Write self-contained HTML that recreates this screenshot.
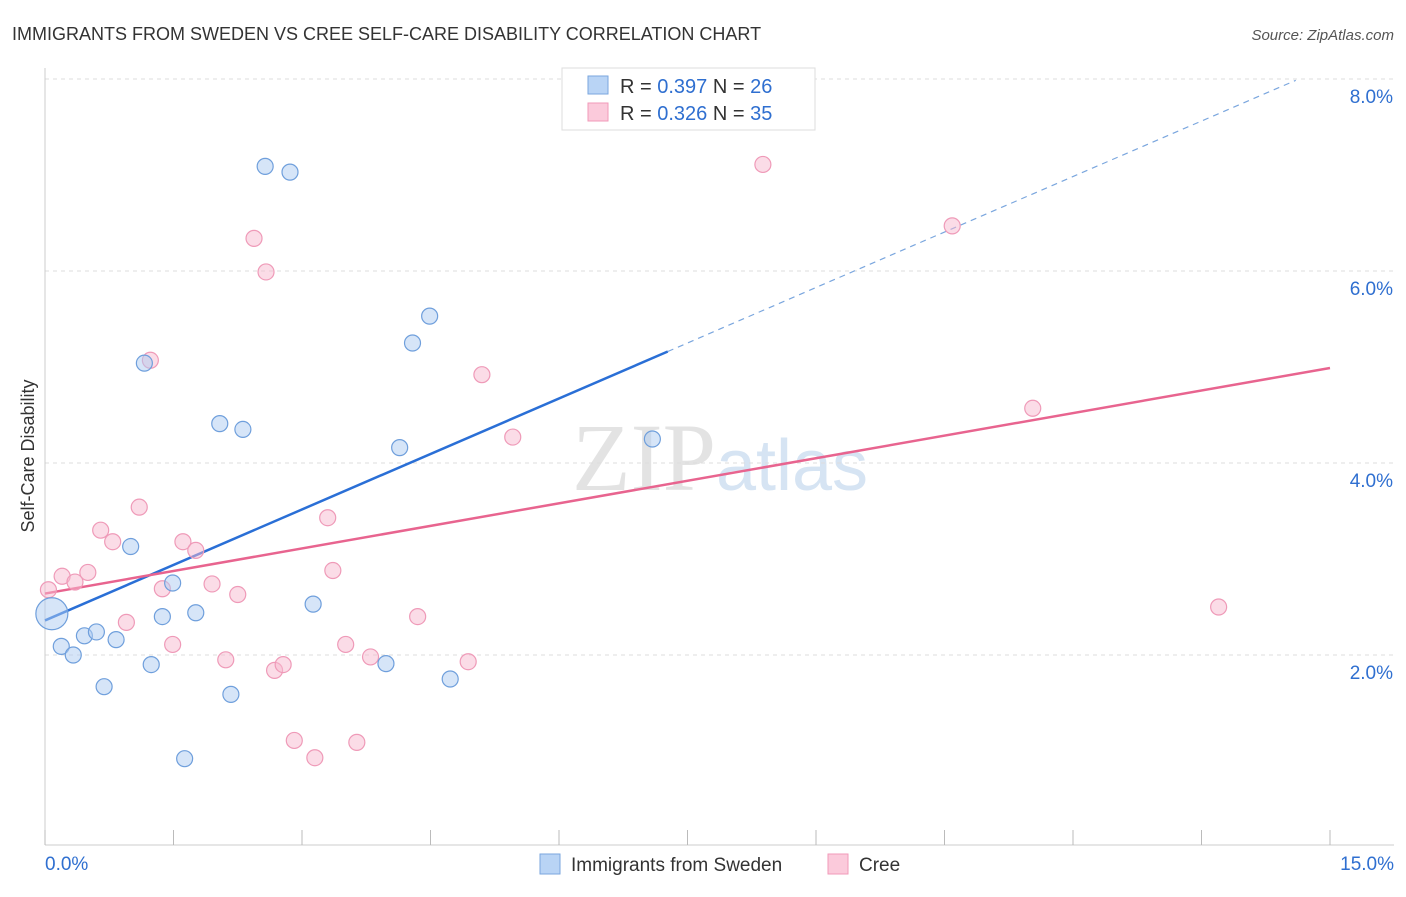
<!DOCTYPE html>
<html><head><meta charset="utf-8"><style>
body{margin:0;background:#fff;font-family:"Liberation Sans",sans-serif;}
</style></head><body>
<svg width="1406" height="892" xmlns="http://www.w3.org/2000/svg" id="svg" font-family="Liberation Sans, sans-serif">
<text x="12" y="40" font-size="18" fill="#333">IMMIGRANTS FROM SWEDEN VS CREE SELF-CARE DISABILITY CORRELATION CHART</text>
<text x="1394" y="40" font-size="15" fill="#555" font-style="italic" text-anchor="end">Source: ZipAtlas.com</text>
<text x="720" y="490" font-size="96" fill="#e3e3e3" text-anchor="middle" font-family="Liberation Serif, serif">ZIP<tspan fill="#d6e4f3" font-family="Liberation Sans, sans-serif" font-size="72">atlas</tspan></text>
<text x="34" y="456" font-size="18" fill="#333" text-anchor="middle" transform="rotate(-90 34 456)">Self-Care Disability</text>
<g id="grid"></g><g id="axes"></g><g id="lines"></g><g id="pts"></g>
<g>
<rect x="562" y="68" width="253" height="62" fill="#fff" stroke="#ddd"/>
<rect x="588" y="76" width="20" height="18" fill="#b9d4f5" stroke="#7aa6de"/>
<text x="620" y="93" font-size="20" fill="#333">R = <tspan fill="#2f6fd0">0.397</tspan>   N = <tspan fill="#2f6fd0">26</tspan></text>
<rect x="588" y="103" width="20" height="18" fill="#fbcadb" stroke="#f19ab8"/>
<text x="620" y="120" font-size="20" fill="#333">R = <tspan fill="#2f6fd0">0.326</tspan>   N = <tspan fill="#2f6fd0">35</tspan></text>
</g>
<g>
<rect x="540" y="854" width="20" height="20" fill="#b9d4f5" stroke="#7aa6de"/>
<text x="571" y="871" font-size="19" fill="#333">Immigrants from Sweden</text>
<rect x="828" y="854" width="20" height="20" fill="#fbcadb" stroke="#f19ab8"/>
<text x="859" y="871" font-size="19" fill="#333">Cree</text>
</g>
</svg>
<script>
const blueX=[0.08,0.19,0.33,0.46,0.60,0.69,0.83,1.00,1.16,1.24,1.37,1.49,1.63,1.76,2.04,2.17,2.31,2.57,2.86,3.13,3.98,4.14,4.29,4.49,4.73,7.09];
const blueY=[2.43,2.09,2.00,2.20,2.24,1.67,2.16,3.13,5.04,1.90,2.40,2.75,0.92,2.44,4.41,1.59,4.35,7.09,7.03,2.53,1.91,4.16,5.25,5.53,1.75,4.25];
const pinkX=[0.04,0.20,0.35,0.50,0.65,0.79,0.95,1.10,1.23,1.37,1.49,1.61,1.76,1.95,2.11,2.25,2.44,2.58,2.68,2.78,2.91,3.15,3.30,3.36,3.51,3.64,3.80,4.35,4.94,5.10,5.46,8.38,10.59,11.53,13.70];
const pinkY=[2.68,2.82,2.76,2.86,3.30,3.18,2.34,3.54,5.07,2.69,2.11,3.18,3.09,2.74,1.95,2.63,6.34,5.99,1.84,1.90,1.11,0.93,3.43,2.88,2.11,1.09,1.98,2.40,1.93,4.92,4.27,7.11,6.47,4.57,2.50];
const blueLine=[2.36,8.14]; const pinkLine=[2.64,4.99];
const yTicks=[2,4,6,8];
const xTickLabels=["0.0%","15.0%"];
const NS="http://www.w3.org/2000/svg";
const sx=v=>45+v/15*1285, sy=v=>847-v*96;
function mk(t,a,p){const e=document.createElementNS(NS,t);for(const k in a)e.setAttribute(k,a[k]);document.getElementById(p).appendChild(e);return e;}
yTicks.forEach(t=>{
 const l=mk('line',{x1:45,x2:1394,y1:sy(t),y2:sy(t),stroke:'#ddd','stroke-dasharray':'4,4'},'grid');
 
 
 const tx=mk('text',{x:1393,y:sy(t)+24,'font-size':19,fill:'#2f6fd0','text-anchor':'end'},'grid');
 tx.textContent=t.toFixed(1)+'%';
 
 
});
mk('line',{x1:45,x2:45,y1:68,y2:845,stroke:'#ccc'},'axes');
mk('line',{x1:45,x2:1394,y1:845,y2:845,stroke:'#ccc'},'axes');
for(let i=0;i<=10;i++){const x=sx(i*1.5);const t=mk('line',{x1:x,x2:x,y1:830,y2:845,stroke:'#bbb'},'axes');
 
 }
const xl0=mk('text',{x:45,y:870,'font-size':19,fill:'#2f6fd0'},'axes');xl0.textContent=xTickLabels[0];


const xl1=mk('text',{x:1394,y:870,'font-size':19,fill:'#2f6fd0','text-anchor':'end'},'axes');xl1.textContent=xTickLabels[1];


// trend lines
const bEndX=7.27; const bAt=x=>blueLine[0]+(blueLine[1]-blueLine[0])*x/15;
const bl=mk('line',{x1:sx(0),y1:sy(blueLine[0]),x2:sx(bEndX),y2:sy(bAt(bEndX)),stroke:'#2a6fd6','stroke-width':2.5},'lines');


const bd=mk('line',{x1:sx(bEndX),y1:sy(bAt(bEndX)),x2:sx(14.6),y2:sy(bAt(14.6)),stroke:'#7aa6de','stroke-width':1.2,'stroke-dasharray':'6,5'},'lines');


const pl=mk('line',{x1:sx(0),y1:sy(pinkLine[0]),x2:sx(15),y2:sy(pinkLine[1]),stroke:'#e8648f','stroke-width':2.5},'lines');


pinkX.forEach((x,i)=>{const c=mk('circle',{cx:sx(x),cy:sy(pinkY[i]),r:8,fill:'rgba(248,185,207,0.5)',stroke:'#ef9ab8','stroke-width':1.2},'pts');
 
 });
blueX.forEach((x,i)=>{const c=mk('circle',{cx:sx(x),cy:sy(blueY[i]),r:i==0?16:8,fill:'rgba(173,203,242,0.5)',stroke:'#6f9fdc','stroke-width':1.2},'pts');
 
 });
</script>
</body></html>
